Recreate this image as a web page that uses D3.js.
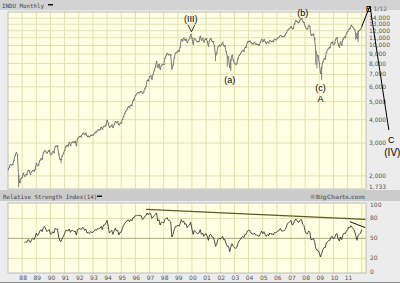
<!DOCTYPE html>
<html>
<head>
<meta charset="utf-8">
<script src="https://cdn.jsdelivr.net/npm/d3@7"></script>
<style>
body{margin:0;background:#ebebeb;}
svg{display:block;}
</style>
</head>
<body>
<script>
// INDU monthly closes, Jan 1987 .. Jan 2012
let priceStart = new Date(1987, 0, 1);
let closes = [
  2158,2224,2305,2286,2292,2419,2572,2663,2596,1994,1834,1939,
  1958,2072,1988,2032,2031,2142,2129,2032,2113,2149,2115,2169,
  2342,2258,2294,2419,2480,2440,2661,2737,2693,2645,2706,2753,
  2591,2627,2707,2657,2877,2881,2905,2614,2453,2442,2560,2634,
  2736,2882,2914,2888,3028,2907,3025,3044,3017,3069,2895,3169,
  3224,3267,3236,3359,3397,3319,3394,3257,3272,3226,3306,3301,
  3310,3370,3435,3428,3527,3516,3540,3651,3555,3681,3684,3754,
  3978,3832,3636,3682,3758,3625,3765,3913,3843,3908,3739,3834,
  3844,4011,4158,4321,4465,4556,4709,4650,4789,4756,5075,5117,
  5395,5486,5587,5569,5643,5655,5529,5616,5882,6029,6522,6448,
  6813,6878,6584,7009,7331,7673,8223,7622,7945,7442,7823,7908,
  7907,8546,8800,9063,8900,8952,8883,7539,7843,8592,9117,9181,
  9359,9307,9786,10789,10560,10971,10655,10829,10337,10730,10878,11497,
  10941,10128,10922,10734,10522,10448,10522,11215,10651,10971,10415,10787,
  10887,10495,9879,10735,10912,10502,10523,9950,8848,9075,9852,10021,
  9920,10106,10404,9946,9925,9243,8737,8664,7592,8397,8896,8342,
  8054,7891,7992,8480,8850,8985,9234,9416,9275,9801,9782,10454,
  10488,10584,10358,10226,10188,10435,10140,10174,10080,10027,10428,10783,
  10490,10766,10504,10193,10467,10275,10641,10482,10569,10440,10806,10718,
  10865,10993,11109,11367,11168,11150,11186,11381,11679,12081,12222,12463,
  12622,12269,12354,13063,13628,13409,13212,13358,13896,13930,13372,13265,
  12650,12266,12263,12820,12638,11350,11378,11544,10851,9325,8829,8776,
  8001,7063,7609,8168,8500,8447,9172,9496,9712,9713,10345,10428,
  10067,10325,10857,11009,10137,9774,10466,10015,10788,11118,11006,11578,
  11892,12226,12320,12811,12570,12414,12143,11614,10913,11955,12046,12218,
  12633
];
// deep intra-month lows
let lowMonths = ["1987-10","1990-10","1998-08","2001-09","2002-07","2002-10","2008-10","2008-11","2009-03","2011-08","2011-10"];
let lowValues = [1738,2344,7400,8236,7702,7286,7882,7552,6547,10720,10404];

// RSI(14) monthly, Mar 1988 .. Jan 2012
let rsiStart = new Date(1988, 2, 1);
let rsiValues = [
  43,45,44,48,47,44,48,50,48,52,
  58,54,56,61,63,60,66,68,64,60,62,63,
  56,57,60,58,65,64,64,52,46,45,50,53,
  57,62,62,61,64,59,62,62,60,61,55,63,
  64,65,63,66,66,62,64,58,59,57,60,59,
  59,61,63,62,65,64,65,68,63,70,70,73,
  77,68,58,60,62,56,61,65,61,62,55,59,
  59,65,69,72,75,76,78,75,78,76,81,81,
  84,84,85,84,84,84,78,80,83,84,88,85,
  88,87,80,82,84,86,88,76,78,70,74,74,
  73,78,80,81,77,77,75,52,56,63,68,68,
  70,68,72,78,74,76,71,72,66,69,70,74,
  64,56,62,60,58,57,58,63,56,58,53,56,
  57,53,47,55,56,52,52,47,38,41,48,50,
  49,51,53,48,48,42,38,38,30,37,42,38,
  36,35,36,42,46,48,51,53,51,56,56,61,
  62,62,58,57,56,58,55,55,54,53,57,61,
  57,60,56,53,56,54,58,56,57,55,59,58,
  60,61,62,65,61,61,61,63,67,72,73,75,
  77,70,71,76,79,77,74,75,78,78,71,69,
  61,57,57,61,59,48,48,50,45,35,32,32,
  28,22,27,33,36,36,43,45,47,47,52,53,
  49,51,56,57,49,46,52,48,55,58,57,61,
  63,67,66,69,66,64,61,54,47,55,56,58,
  63
];

let priceTicks = [2000,3000,4000,5000,6000,7000,8000,9000,10000,11000,12000,13000,14000];
let priceMin = 1733;
let rsiTicks = [0,20,50,80,100];
let yearLabels = ["88","89","90","91","92","93","94","95","96","97","98","99","00","01","02","03","04","05","06","07","08","09","10","11"];

// wave annotations (month, value)
let waveText = ["(III)","(a)","(b)","(c)","A","B","C","(IV)"];
let waveMonth = ["1999-12","2002-09","2007-11","2009-02","2009-02","2012-07","2014-02","2014-03"];
let waveValue = [13366,6293,14391,5703,4977,15120,3000,2556];
let projMonth = ["2012-01","2012-08","2013-12"];
let projValue = [12633,16280,3520];
let rsiTrendMonth = ["1996-10","2012-04"];
let rsiTrendValue = [93.5,78.5];
let rsiShortMonth = ["2011-03","2012-04"];
let rsiShortValue = [75,66];

let parseM = d3.timeParse("%Y-%m");
let fmt = d3.format(",");

let svg = d3.select("body").append("svg")
  .attr("width",400).attr("height",283);

let x = d3.scaleTime().domain([new Date(1987,0,1), new Date(2012,3,20)]).range([8,366]);
let y = d3.scaleLog().domain([1701,15117]).range([189,12]);
let yR = d3.scaleLinear().domain([-2,103]).range([273,203]);

// frame pieces
svg.append("rect").attr("x",0).attr("y",0).attr("width",400).attr("height",283).attr("fill","#ececec");
svg.append("rect").attr("x",0).attr("y",0).attr("width",400).attr("height",10).attr("fill","#d2d2d2");
svg.append("rect").attr("x",0).attr("y",190).attr("width",400).attr("height",11).attr("fill","#cbcbcb");
svg.append("line").attr("x1",0).attr("x2",400).attr("y1",282.5).attr("y2",282.5).attr("stroke","#8a8a8a");

svg.append("text").attr("x",2).attr("y",7.5).text("INDU Monthly")
  .style("font-family","DejaVu Sans Mono").style("font-size","5.8px").attr("fill","#444");
svg.append("rect").attr("x",48).attr("y",4).attr("width",5).attr("height",1.5).attr("fill","#111");
svg.append("text").attr("x",3).attr("y",198.5).text("Relative Strength Index(14)")
  .style("font-family","DejaVu Sans Mono").style("font-size","5.8px").attr("fill","#444");
svg.append("rect").attr("x",97).attr("y",195.5).attr("width",5).attr("height",1.5).attr("fill","#111");
svg.append("text").attr("x",365).attr("y",198.5).attr("text-anchor","end").text("\u00a9BigCharts.com")
  .style("font-family","DejaVu Sans").style("font-weight","bold").style("font-size","6px").attr("fill","#777");

// plot backgrounds
svg.append("rect").attr("x",8).attr("y",12).attr("width",358).attr("height",177).attr("fill","#ffffe3");
svg.append("rect").attr("x",8).attr("y",203).attr("width",358).attr("height",70).attr("fill","#ffffe3");

let years = yearLabels.map((d,i)=>new Date(1988+i,0,1)).concat([new Date(2012,0,1)]);

// vertical grid, both panels
svg.selectAll("line.vg1").data(years).enter().append("line")
  .attr("x1",d=>x(d)).attr("x2",d=>x(d)).attr("y1",12).attr("y2",189)
  .attr("stroke","#e3e0ac").attr("stroke-width",1);
svg.selectAll("line.vg2").data(years).enter().append("line")
  .attr("x1",d=>x(d)).attr("x2",d=>x(d)).attr("y1",203).attr("y2",273)
  .attr("stroke","#e3e0ac").attr("stroke-width",1);

// horizontal grid
svg.selectAll("line.hg1").data(priceTicks).enter().append("line")
  .attr("x1",8).attr("x2",366).attr("y1",d=>y(d)).attr("y2",d=>y(d))
  .attr("stroke","#e3e0ac").attr("stroke-width",1);
svg.selectAll("line.hg2").data([20,50,80]).enter().append("line")
  .attr("x1",8).attr("x2",366).attr("y1",d=>yR(d)).attr("y2",d=>yR(d))
  .attr("stroke",d=>d==50?"#a9a67a":"#e3e0ac").attr("stroke-width",1);

// borders
svg.append("rect").attr("x",8).attr("y",12).attr("width",358).attr("height",177)
  .attr("fill","none").attr("stroke","#b0b0b0").attr("stroke-width",0.8);
svg.append("rect").attr("x",8).attr("y",203).attr("width",358).attr("height",70)
  .attr("fill","none").attr("stroke","#b0b0b0").attr("stroke-width",0.8);

// price
let priceData = closes.map((v,i)=>({d:d3.timeMonth.offset(priceStart,i), v:v}));
let lowData = lowMonths.map((m,i)=>({d:parseM(m), v:lowValues[i], c:closes[d3.timeMonth.count(priceStart,parseM(m))]}));

svg.selectAll("line.low").data(lowData).enter().append("line")
  .attr("x1",d=>x(d.d)).attr("x2",d=>x(d.d)).attr("y1",d=>y(d.c)).attr("y2",d=>y(d.v))
  .attr("stroke","#7c7c7c").attr("stroke-width",1);

svg.append("path").datum(priceData)
  .attr("d",d3.line().x(d=>x(d.d)).y(d=>y(d.v)))
  .attr("fill","none").attr("stroke","#7c7c7c").attr("stroke-width",1);

svg.selectAll("rect.cl").data(priceData).enter().append("rect")
  .attr("x",d=>x(d.d)).attr("y",d=>y(d.v)-0.5).attr("width",1).attr("height",1)
  .attr("fill","#333").attr("opacity",0.6);

// price axis labels
svg.selectAll("text.pt").data(priceTicks.concat([priceMin])).enter().append("text")
  .attr("x",369).attr("y",d=>y(d)+2)
  .text(d=>fmt(d))
  .style("font-family","DejaVu Sans").style("font-size","6px").attr("fill","#555");

// RSI
let rsiData = rsiValues.map((v,i)=>({d:d3.timeMonth.offset(rsiStart,i), v:v}));
svg.append("path").datum(rsiData)
  .attr("d",d3.line().x(d=>x(d.d)).y(d=>yR(d.v)))
  .attr("fill","none").attr("stroke","#222").attr("stroke-width",0.8);

let trend = rsiTrendMonth.map((m,i)=>({d:parseM(m), v:rsiTrendValue[i]}));
svg.append("path").datum(trend)
  .attr("d",d3.line().x(d=>x(d.d)).y(d=>yR(d.v)))
  .attr("fill","none").attr("stroke","#5e5a22").attr("stroke-width",1.2);
let trend2 = rsiShortMonth.map((m,i)=>({d:parseM(m), v:rsiShortValue[i]}));
svg.append("path").datum(trend2)
  .attr("d",d3.line().x(d=>x(d.d)).y(d=>yR(d.v)))
  .attr("fill","none").attr("stroke","#111").attr("stroke-width",1);

svg.selectAll("text.rt").data(rsiTicks).enter().append("text")
  .attr("x",370).attr("y",d=>yR(d)+2)
  .text(d=>d)
  .style("font-family","DejaVu Sans").style("font-size","6px").attr("fill","#555");

svg.selectAll("text.yl").data(yearLabels).enter().append("text")
  .attr("x",(d,i)=>x(years[i])+1).attr("y",280)
  .attr("text-anchor","middle").text(d=>d)
  .style("font-family","DejaVu Sans").style("font-size","6px").attr("fill","#555");

// wave projection
let proj = projMonth.map((m,i)=>({d:parseM(m), v:projValue[i]}));
svg.append("path").datum(proj)
  .attr("d",d3.line().x(d=>x(d.d)).y(d=>y(d.v)))
  .attr("fill","none").attr("stroke","#000").attr("stroke-width",1);

// (III) pointer
let peak = {d:parseM("2000-01"), v:11700};
svg.append("path")
  .attr("d",`M${x(peak.d)-4},${y(peak.v)-8} L${x(peak.d)-0.5},${y(peak.v)-1} L${x(peak.d)+3},${y(peak.v)-8}`)
  .attr("fill","none").attr("stroke","#000").attr("stroke-width",0.8);

svg.append("text").attr("x",x(parseM("2012-11"))).attr("y",y(15120)-0.5).text("1/12")
  .style("font-family","DejaVu Sans").style("font-size","6px").attr("fill","#666");

svg.selectAll("text.wave").data(waveText).enter().append("text")
  .attr("x",(d,i)=>x(parseM(waveMonth[i])))
  .attr("y",(d,i)=>y(waveValue[i]))
  .attr("text-anchor","middle")
  .text(d=>d)
  .style("font-family","Liberation Sans").style("font-size",d=>d=="(IV)"?"10px":"9px")
  .attr("fill","#000");
</script>
</body>
</html>
